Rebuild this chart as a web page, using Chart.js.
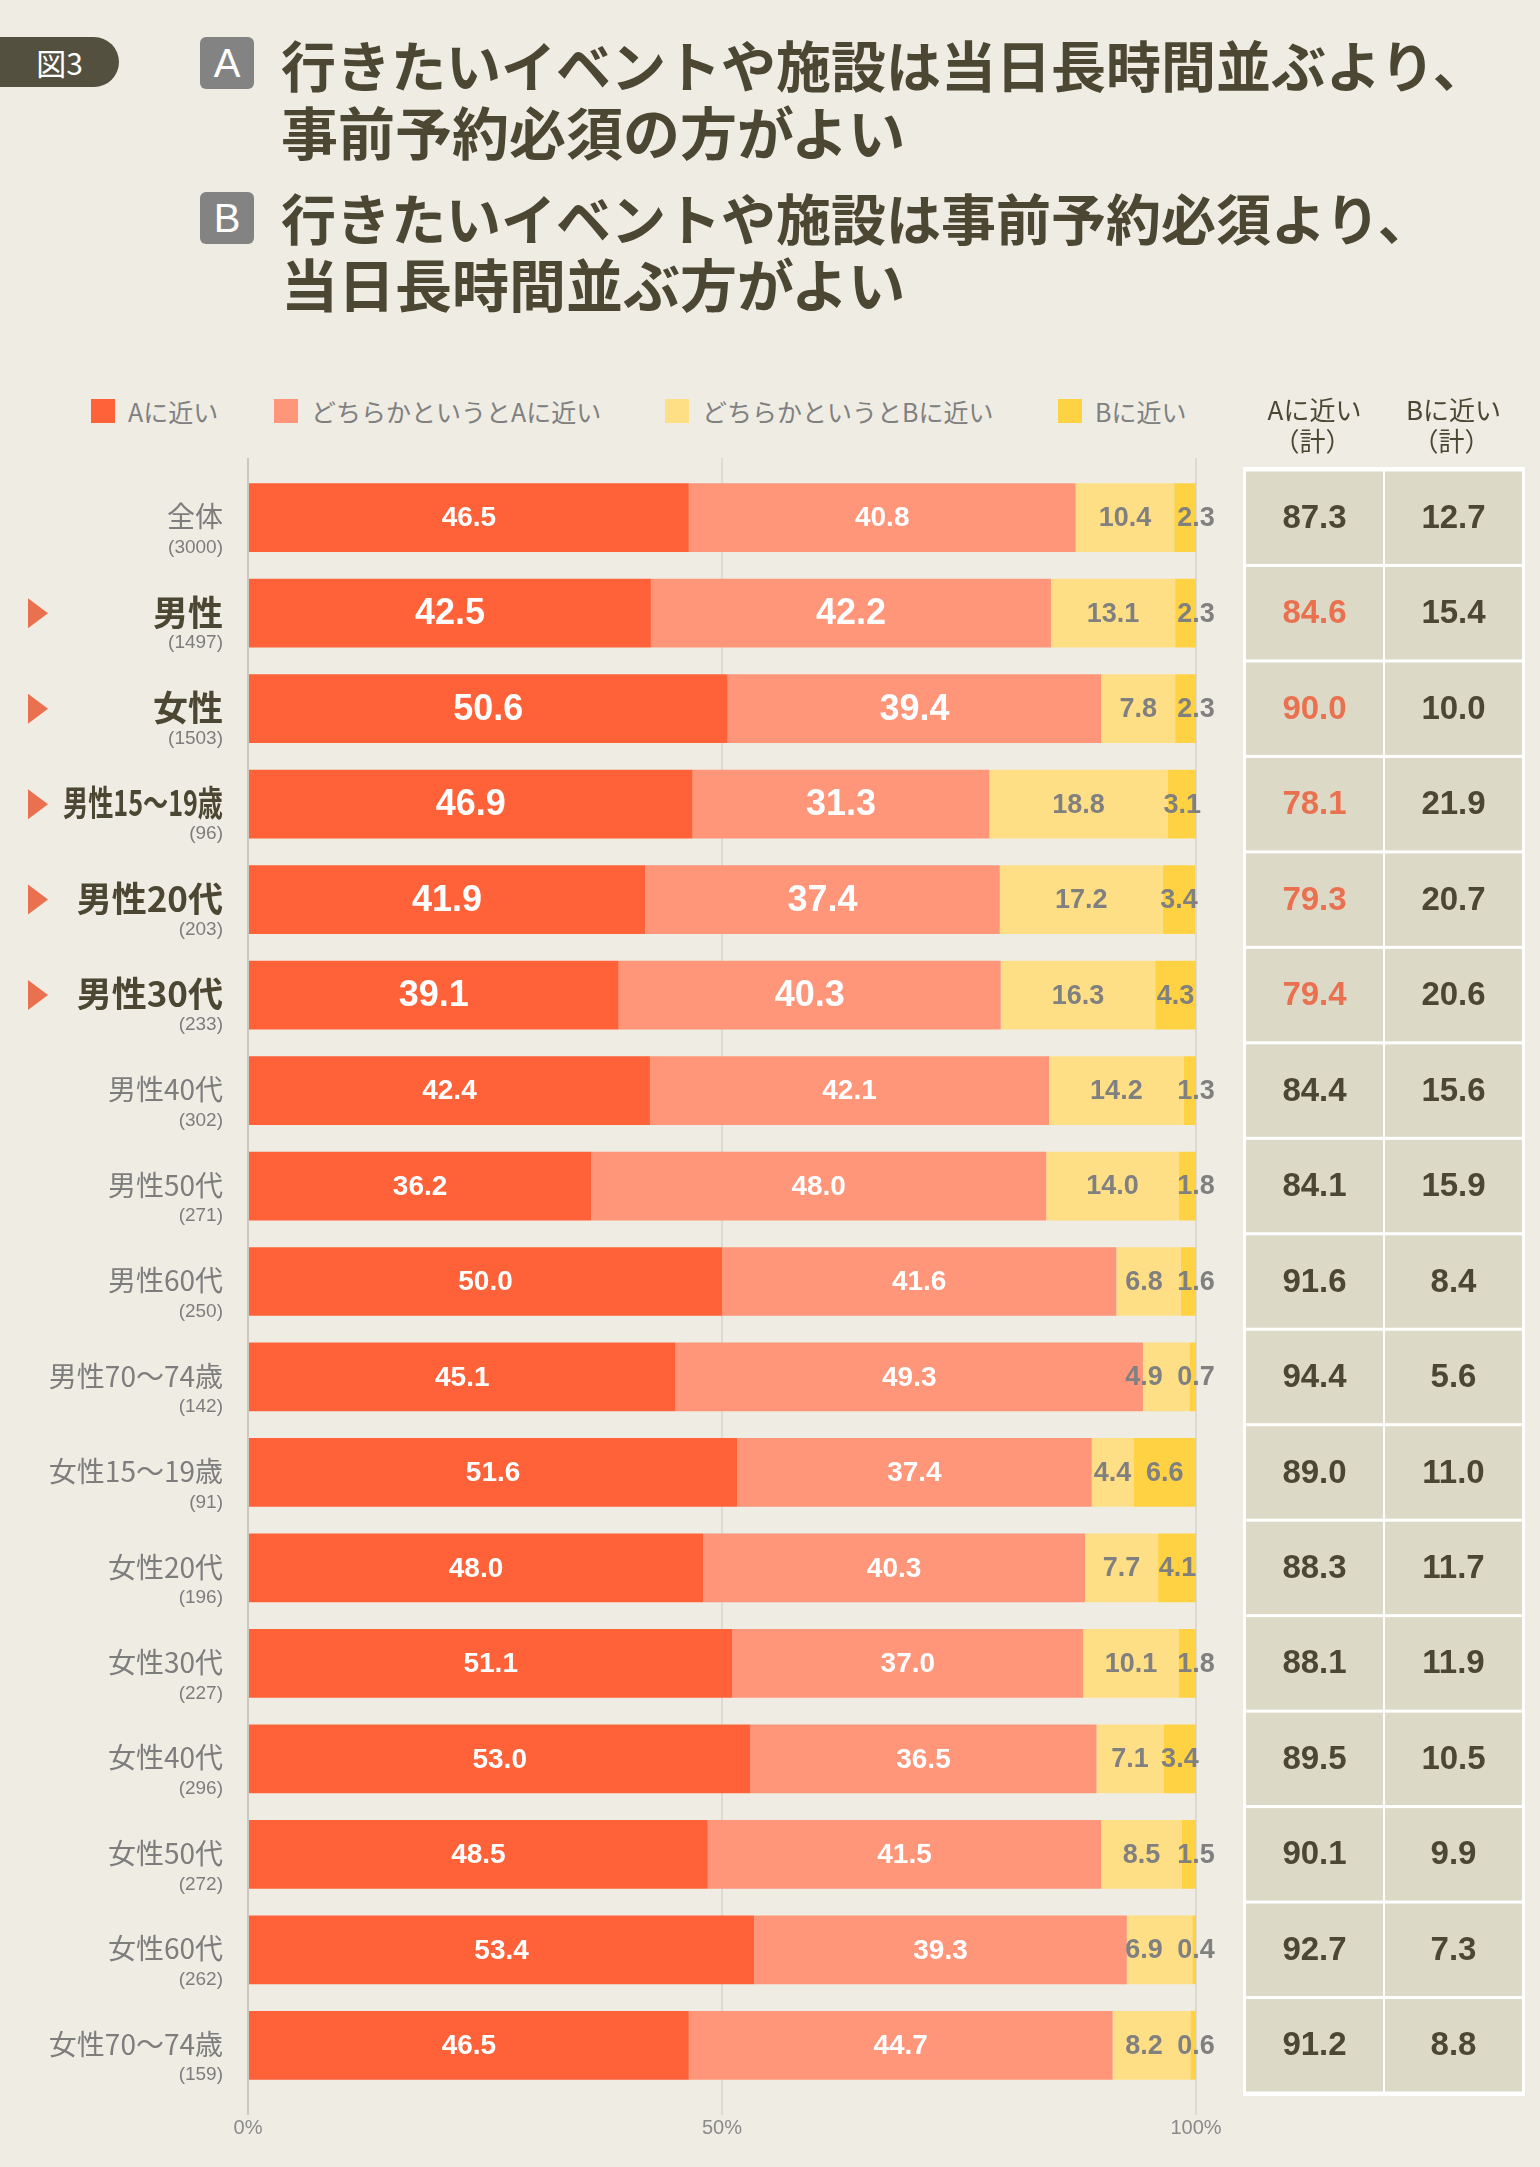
<!DOCTYPE html>
<html lang="ja">
<head>
<meta charset="utf-8">
<title>図3</title>
<script src="https://cdn.jsdelivr.net/npm/chart.js@4.4.1/dist/chart.umd.min.js"></script>
<style>
  html, body { margin: 0; padding: 0; background: #efece3; }
  body { width: 1540px; height: 2167px; position: relative; overflow: hidden; font-family: "Noto Sans CJK JP", sans-serif; }
  #chart { position: absolute; left: 0; top: 0; }
  .badge { position: absolute; left: 0; top: 37px; width: 119px; height: 50px; background: #545040; border-radius: 0 25px 25px 0;
           color: #fff; font-size: 30px; line-height: 50px; text-align: center; box-sizing: border-box; }
  .box { position: absolute; left: 200px; width: 54px; height: 52px; background: #838383; border-radius: 6px;
         color: #fff; font-size: 40px; line-height: 52px; text-align: center; font-family: "Liberation Sans", sans-serif; }
  .ttl { position: absolute; left: 281px; color: #4b4733; font-weight: bold; font-size: 55px; line-height: 55px; white-space: nowrap; }
  .ttl.s { font-size: 57px; line-height: 57px; }
  .lg { position: absolute; top: 399px; height: 24px; }
  .lg i { position: absolute; left: 0; top: 0; width: 24px; height: 24px; }
  .lg span { position: absolute; left: 37px; top: -3px; font-size: 25px; line-height: 30px; color: #808080; white-space: nowrap; }
</style>
</head>
<body>
<div class="badge">図3</div>
<div class="box" style="top:37px">A</div>
<div class="ttl" style="top:36px">行きたいイベントや施設は当日長時間並ぶより、</div>
<div class="ttl s" style="top:102px">事前予約必須の方がよい</div>
<div class="box" style="top:192px">B</div>
<div class="ttl" style="top:189px">行きたいイベントや施設は事前予約必須より、</div>
<div class="ttl s" style="top:254px">当日長時間並ぶ方がよい</div>
<div id="legend"></div>
<canvas id="chart" width="1540" height="2167"></canvas>

<script>
// categories and sample sizes
const categories = ["全体", "男性", "女性", "男性15〜19歳", "男性20代", "男性30代", "男性40代", "男性50代", "男性60代",
  "男性70〜74歳", "女性15〜19歳", "女性20代", "女性30代", "女性40代", "女性50代", "女性60代", "女性70〜74歳"];
const sampleN = [3000, 1497, 1503, 96, 203, 233, 302, 271, 250, 142, 91, 196, 227, 296, 272, 262, 159];
const highlighted = [1, 2, 3, 4, 5];

const seriesNames = ["Aに近い", "どちらかというとAに近い", "どちらかというとBに近い", "Bに近い"];
const seriesA     = [46.5, 42.5, 50.6, 46.9, 41.9, 39.1, 42.4, 36.2, 50.0, 45.1, 51.6, 48.0, 51.1, 53.0, 48.5, 53.4, 46.5];
const seriesSomeA = [40.8, 42.2, 39.4, 31.3, 37.4, 40.3, 42.1, 48.0, 41.6, 49.3, 37.4, 40.3, 37.0, 36.5, 41.5, 39.3, 44.7];
const seriesSomeB = [10.4, 13.1, 7.8, 18.8, 17.2, 16.3, 14.2, 14.0, 6.8, 4.9, 4.4, 7.7, 10.1, 7.1, 8.5, 6.9, 8.2];
const seriesB     = [2.3, 2.3, 2.3, 3.1, 3.4, 4.3, 1.3, 1.8, 1.6, 0.7, 6.6, 4.1, 1.8, 3.4, 1.5, 0.4, 0.6];

// table on the right
const totalA = [87.3, 84.6, 90.0, 78.1, 79.3, 79.4, 84.4, 84.1, 91.6, 94.4, 89.0, 88.3, 88.1, 89.5, 90.1, 92.7, 91.2];
const totalB = [12.7, 15.4, 10.0, 21.9, 20.7, 20.6, 15.6, 15.9, 8.4, 5.6, 11.0, 11.7, 11.9, 10.5, 9.9, 7.3, 8.8];
const tableHeads = [["Aに近い", "（計）"], ["Bに近い", "（計）"]];

const xTicks = [0, 50, 100];

const colors = ["#ff6238", "#ff9579", "#ffdf86", "#ffd244"];
const DARK = "#4b4733", GRAY = "#7d7d7d", ORANGE = "#ea7150";

// legend (html)
const legendX = [91, 274, 665, 1058];
document.getElementById("legend").innerHTML = seriesNames.map((n, i) =>
  `<div class="lg" style="left:${legendX[i]}px"><i style="background:${colors[i]}"></i><span>${n}</span></div>`).join("");

// grid lines poke a little above the first bar row
const gridTop = {
  id: "gridTop",
  beforeDatasetsDraw(chart) {
    const { ctx, chartArea } = chart;
    const x = chart.scales.x;
    ctx.save();
    ctx.lineWidth = 2;
    xTicks.forEach(v => {
      const px = x.getPixelForValue(v);
      ctx.strokeStyle = v === 0 ? "#cac8c1" : "#dcdad3";
      ctx.beginPath();
      ctx.moveTo(px, chartArea.top - 12);
      ctx.lineTo(px, chartArea.top);
      ctx.stroke();
    });
    ctx.restore();
  }
};

const rowLabels = {
  id: "rowLabels",
  afterDraw(chart) {
    const { ctx } = chart;
    const y = chart.scales.y;
    categories.forEach((name, i) => {
      const cy = y.getPixelForValue(i);
      const hi = highlighted.includes(i);
      ctx.save();
      ctx.textAlign = "right";
      ctx.textBaseline = "middle";
      ctx.fillStyle = hi ? DARK : GRAY;
      ctx.font = hi ? "bold 35px 'Noto Sans CJK JP'" : "28px 'Noto Sans CJK JP'";
      ctx.fillText(name, 223, cy - 1, hi ? 160 : 190);
      ctx.fillStyle = GRAY;
      ctx.font = "19px 'Liberation Sans'";
      ctx.fillText(`(${sampleN[i]})`, 223, cy + 30);
      if (hi) {
        ctx.fillStyle = ORANGE;
        ctx.beginPath();
        ctx.moveTo(28, cy - 15);
        ctx.lineTo(48, cy);
        ctx.lineTo(28, cy + 15);
        ctx.closePath();
        ctx.fill();
      }
      ctx.restore();
    });
  }
};

const barValues = {
  id: "barValues",
  afterDatasetsDraw(chart) {
    const { ctx } = chart;
    const right = chart.scales.x.getPixelForValue(100);
    ctx.save();
    ctx.textAlign = "center";
    ctx.textBaseline = "middle";
    chart.data.datasets.forEach((ds, di) => {
      chart.getDatasetMeta(di).data.forEach((bar, i) => {
        const v = ds.data[i];
        let cx = (bar.x + bar.base) / 2;
        if (di === 3 && v < 3) cx = right;
        if (di === 2 && seriesB[i] < 3) cx = Math.min(cx, right - 52);
        const hi = highlighted.includes(i);
        if (di < 2) {
          ctx.fillStyle = "#fff";
          ctx.font = hi ? "bold 36px 'Liberation Sans'" : "bold 28px 'Liberation Sans'";
        } else {
          ctx.fillStyle = "#808080";
          ctx.font = "bold 27px 'Liberation Sans'";
        }
        ctx.fillText(v.toFixed(1), cx, bar.y + 1);
      });
    });
    ctx.restore();
  }
};

const sideTable = {
  id: "sideTable",
  afterDraw(chart) {
    const { ctx } = chart;
    const y = chart.scales.y;
    const cols = [[1246, 1383], [1385, 1522]];
    const half = (y.getPixelForValue(1) - y.getPixelForValue(0)) / 2;
    const top = y.getPixelForValue(0) - half - 3;
    const bottom = y.getPixelForValue(categories.length - 1) + half + 3;
    ctx.save();
    ctx.fillStyle = "#ffffff";
    ctx.fillRect(cols[0][0] - 3, top, cols[1][1] - cols[0][0] + 6, bottom - top);
    ctx.textAlign = "center";
    ctx.textBaseline = "middle";
    // heads
    ctx.fillStyle = DARK;
    ctx.font = "26px 'Noto Sans CJK JP'";
    tableHeads.forEach((h, c) => {
      const cx = (cols[c][0] + cols[c][1]) / 2;
      ctx.fillText(h[0], cx, 410);
      ctx.fillText(h[1], cx - 2, 441);
    });
    categories.forEach((_, i) => {
      const cy = y.getPixelForValue(i);
      [totalA[i], totalB[i]].forEach((v, c) => {
        ctx.fillStyle = "#dcd9c6";
        ctx.fillRect(cols[c][0], cy - half + 1.5, cols[c][1] - cols[c][0], half * 2 - 3);
        ctx.fillStyle = (c === 0 && highlighted.includes(i)) ? ORANGE : DARK;
        ctx.font = "bold 33px 'Liberation Sans'";
        ctx.fillText(v.toFixed(1), (cols[c][0] + cols[c][1]) / 2, cy + 1);
      });
    });
    ctx.restore();
  }
};

const data = [seriesA, seriesSomeA, seriesSomeB, seriesB];

new Chart(document.getElementById("chart"), {
  type: "bar",
  data: {
    labels: categories,
    datasets: data.map((d, i) => ({
      label: seriesNames[i],
      data: d,
      backgroundColor: colors[i],
      borderWidth: 0,
      barPercentage: 0.72,
      categoryPercentage: 1
    }))
  },
  options: {
    indexAxis: "y",
    responsive: false,
    animation: false,
    devicePixelRatio: 1,
    layout: { padding: { left: 248, right: 344, top: 470, bottom: 24 } },
    scales: {
      x: {
        stacked: true,
        min: 0,
        max: 100,
        afterBuildTicks: s => { s.ticks = xTicks.map(v => ({ value: v })); },
        afterFit: s => { s.height = 50; },
        border: { display: false },
        grid: {
          color: c => c.tick && c.tick.value === 0 ? "#cac8c1" : "#dcdad3",
          lineWidth: 2,
          drawTicks: true,
          tickLength: 22
        },
        ticks: {
          padding: 1,
          color: "#8a8a8a",
          font: { family: "'Liberation Sans'", size: 20 },
          callback: v => v + "%"
        }
      },
      y: { stacked: true, display: false }
    },
    plugins: { legend: { display: false }, tooltip: { enabled: false } }
  },
  plugins: [gridTop, barValues, rowLabels, sideTable]
});
</script>
</body>
</html>
